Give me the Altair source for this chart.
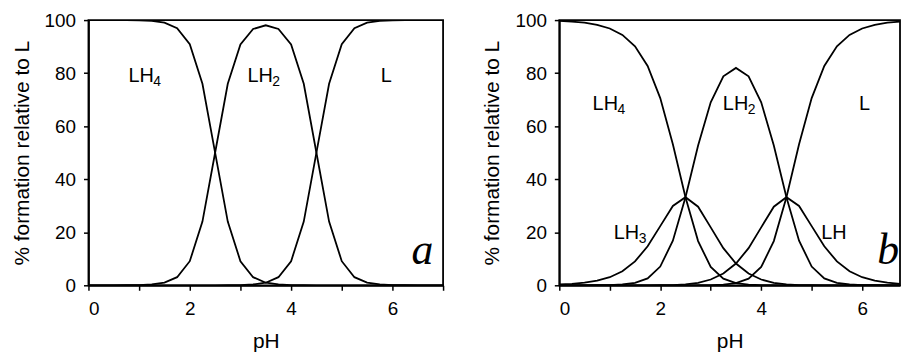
import altair as alt
import pandas as pd

# pH grid (0.25 steps)
ph = [0.0, 0.25, 0.5, 0.75, 1.0, 1.25, 1.5, 1.75, 2.0, 2.25, 2.5, 2.75, 3.0, 3.25,
      3.5, 3.75, 4.0, 4.25, 4.5, 4.75, 5.0, 5.25, 5.5, 5.75, 6.0, 6.25, 6.5, 6.75, 7.0]

# Panel a
a_LH4 = [100.0, 100.0, 99.99, 99.97, 99.9, 99.68, 99.01, 96.94, 90.91, 75.97, 50.0, 24.02,
         9.08, 3.06, 0.98, 0.31, 0.09, 0.02, 0, 0, 0, 0, 0, 0, 0, 0, 0, 0, 0]
a_LH2 = [0, 0, 0.01, 0.03, 0.1, 0.32, 0.99, 3.06, 9.09, 24.02, 49.99, 75.96, 90.83, 96.64,
         98.04, 96.64, 90.83, 75.96, 49.99, 24.02, 9.09, 3.06, 0.99, 0.32, 0.1, 0.03, 0.01, 0, 0]
a_L = [0, 0, 0, 0, 0, 0, 0, 0, 0, 0, 0, 0.02, 0.09, 0.31, 0.98, 3.06, 9.08, 24.02, 50.0,
       75.97, 90.91, 96.94, 99.01, 99.68, 99.9, 99.97, 99.99, 100.0, 100.0]

# Panel b
b_LH4 = [99.68, 99.44, 99.0, 98.22, 96.84, 94.39, 90.09, 82.68, 70.59, 53.18, 33.22, 16.67,
         6.9, 2.49, 0.82, 0.25, 0.07, 0.02, 0, 0, 0, 0, 0, 0, 0, 0, 0, 0, 0]
b_LH3 = [0.32, 0.56, 0.99, 1.75, 3.06, 5.31, 9.01, 14.7, 22.32, 29.91, 33.22, 29.65, 21.83,
         14.01, 8.2, 4.43, 2.18, 0.94, 0.33, 0.09, 0.02, 0, 0, 0, 0, 0, 0, 0, 0]
b_LH2 = [0, 0, 0.01, 0.03, 0.1, 0.3, 0.9, 2.61, 7.06, 16.82, 33.22, 52.72, 69.02, 78.81,
         81.97, 78.81, 69.02, 52.72, 33.22, 16.82, 7.06, 2.61, 0.9, 0.3, 0.1, 0.03, 0.01, 0, 0]
b_LH = [0, 0, 0, 0, 0, 0, 0, 0, 0.02, 0.09, 0.33, 0.94, 2.18, 4.43, 8.2, 14.01, 21.83, 29.65,
        33.22, 29.91, 22.32, 14.7, 9.01, 5.31, 3.06, 1.75, 0.99, 0.56, 0.32]
b_L = [0, 0, 0, 0, 0, 0, 0, 0, 0, 0, 0, 0.02, 0.07, 0.25, 0.82, 2.49, 6.9, 16.67, 33.22,
       53.18, 70.59, 82.68, 90.09, 94.39, 96.84, 98.22, 99.0, 99.44, 99.68]

# Species labels: main text, subscript, pH position, % position
a_lab_main = ["LH", "LH", "L"]
a_lab_sub = ["4", "2", ""]
a_lab_x = [0.79, 3.14, 5.77]
a_lab_y = [76.7, 76.7, 76.7]

b_lab_main = ["LH", "LH", "L", "LH", "LH"]
b_lab_sub = ["4", "2", "", "3", ""]
b_lab_x = [0.66, 3.24, 5.94, 1.08, 5.19]
b_lab_y = [66.1, 66.1, 66.1, 17.4, 17.4]

panel_letters = ["a", "b"]
letter_x = [6.81, 6.73]
letter_y = [8.1, 8.1]

FONT = "Liberation Sans"


def long_df(series):
    rows = []
    for name, vals in series.items():
        for p, v in zip(ph, vals):
            rows.append({"pH": p, "pct": v, "species": name})
    return pd.DataFrame(rows)


def panel(series, lab_main, lab_sub, lab_x, lab_y, letter, lx, ly, xmax, width):
    df = long_df(series)
    xs = alt.Scale(domain=[0, xmax], nice=False, zero=False)
    ys = alt.Scale(domain=[0, 100], nice=False)
    xaxis = alt.Axis(values=[0, 1, 2, 3, 4, 5, 6, 7],
                     labelExpr="datum.value % 2 == 0 ? datum.label : ''",
                     title="pH", labelPadding=9, titlePadding=13)
    yaxis = alt.Axis(values=[0, 10, 20, 30, 40, 50, 60, 70, 80, 90, 100],
                     labelExpr="datum.value % 20 == 0 ? datum.label : ''",
                     title="% formation relative to L", labelPadding=8, titlePadding=12)
    lines = alt.Chart(df).mark_line(color="black", strokeWidth=1.8, clip=True).encode(
        x=alt.X("pH:Q", scale=xs, axis=xaxis),
        y=alt.Y("pct:Q", scale=ys, axis=yaxis),
        detail="species:N",
        order="pH:Q",
    )
    ldf = pd.DataFrame({"x": lab_x, "y": lab_y, "main": lab_main, "sub": lab_sub})
    main = alt.Chart(ldf).mark_text(align="left", baseline="alphabetic", font=FONT,
                                    fontSize=20, color="black").encode(
        x=alt.X("x:Q", scale=xs), y=alt.Y("y:Q", scale=ys), text="main:N")
    sub = alt.Chart(ldf).mark_text(align="left", baseline="alphabetic", font=FONT,
                                   fontSize=14, color="black", dx=25, dy=4).encode(
        x=alt.X("x:Q", scale=xs), y=alt.Y("y:Q", scale=ys), text="sub:N")
    letdf = pd.DataFrame({"x": [lx], "y": [ly], "t": [letter]})
    let = alt.Chart(letdf).mark_text(align="right", baseline="alphabetic",
                                     font="Liberation Serif", fontStyle="italic",
                                     fontSize=44, color="black").encode(
        x=alt.X("x:Q", scale=xs), y=alt.Y("y:Q", scale=ys), text="t:N")
    return alt.layer(lines, main, sub, let).properties(width=width, height=267)


pa = panel({"LH4": a_LH4, "LH2": a_LH2, "L": a_L}, a_lab_main, a_lab_sub, a_lab_x, a_lab_y,
           panel_letters[0], letter_x[0], letter_y[0], 7, 357)
pb = panel({"LH4": b_LH4, "LH3": b_LH3, "LH2": b_LH2, "LH": b_LH, "L": b_L},
           b_lab_main, b_lab_sub, b_lab_x, b_lab_y,
           panel_letters[1], letter_x[1], letter_y[1], 6.75, 343)

chart = alt.hconcat(pa, pb, spacing=36).properties(
    padding={"left": 2, "top": 1, "right": 0, "bottom": 0}
).configure_view(
    stroke="black", strokeWidth=1.8
).configure_axis(
    grid=False, domainColor="black", domainWidth=1.8, tickColor="black", tickWidth=1.5,
    tickSize=5, labelFont=FONT, labelFontSize=19, labelColor="black",
    titleFont=FONT, titleFontSize=21, titleFontWeight="normal", titleColor="black"
)

chart.save("out.html", embed_options={"renderer": "svg", "actions": False})
